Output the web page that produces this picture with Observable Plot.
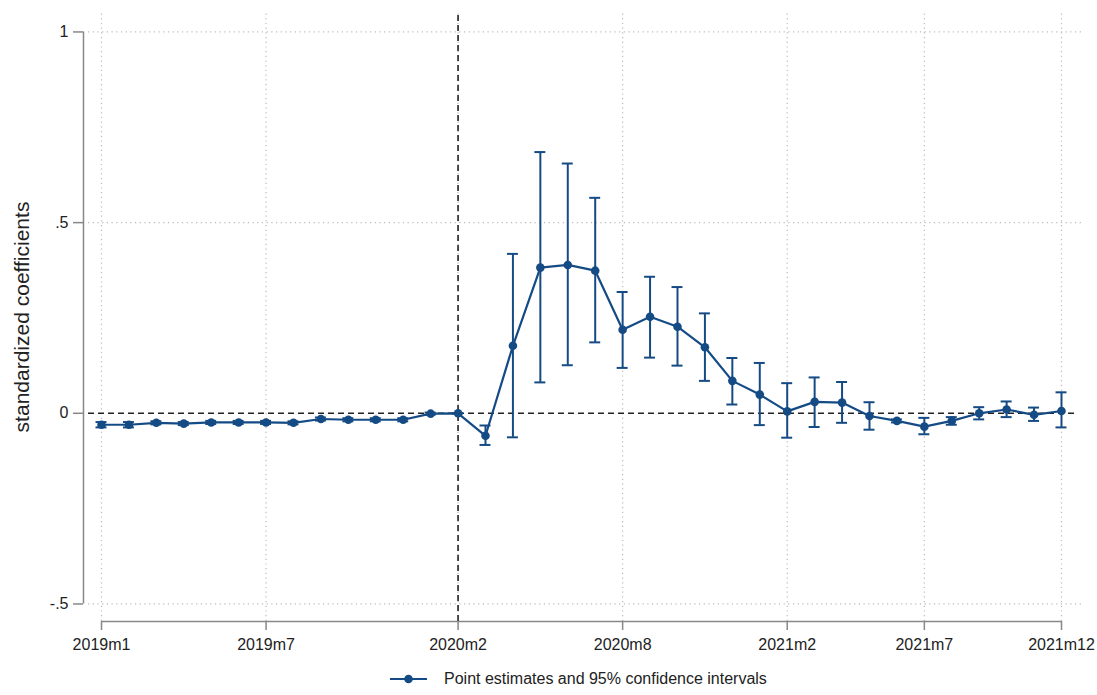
<!DOCTYPE html>
<html>
<head>
<meta charset="utf-8">
<script src="https://cdn.jsdelivr.net/npm/d3@7"></script>
<script src="https://cdn.jsdelivr.net/npm/@observablehq/plot@0.6"></script>
<style>
  html, body { margin: 0; padding: 0; background: #fff; }
  body { width: 1097px; height: 695px; position: relative; overflow: hidden; font-family: "Liberation Sans", Arial, sans-serif; }
  #legend { position: absolute; left: 390px; top: 670px; display: flex; align-items: center; font-size: 16px; color: #222; }
  #legend svg { margin-right: 17px; }
</style>
</head>
<body>
<div id="chart"></div>
<div id="legend"></div>
<script>
// Months (index 0 = 2019m1 ... 35 = 2021m12)
const months = ["2019m1","2019m2","2019m3","2019m4","2019m5","2019m6","2019m7","2019m8","2019m9","2019m10","2019m11","2019m12",
  "2020m1","2020m2","2020m3","2020m4","2020m5","2020m6","2020m7","2020m8","2020m9","2020m10","2020m11","2020m12",
  "2021m1","2021m2","2021m3","2021m4","2021m5","2021m6","2021m7","2021m8","2021m9","2021m10","2021m11","2021m12"];
const estimates = [-0.030,-0.030,-0.025,-0.027,-0.024,-0.024,-0.024,-0.025,-0.015,-0.017,-0.017,-0.017,
  -0.001,0.000,-0.059,0.177,0.382,0.389,0.374,0.219,0.253,0.227,0.173,0.085,
  0.049,0.005,0.030,0.028,-0.007,-0.020,-0.035,-0.020,0.000,0.010,-0.004,0.006];
const lower = [-0.037,-0.037,-0.029,-0.031,-0.028,-0.028,-0.028,-0.029,-0.019,-0.021,-0.021,-0.021,
  -0.004,0.000,-0.083,-0.063,0.081,0.126,0.186,0.119,0.146,0.125,0.085,0.023,
  -0.031,-0.064,-0.036,-0.025,-0.043,-0.024,-0.055,-0.030,-0.016,-0.010,-0.020,-0.037];
const upper = [-0.023,-0.023,-0.021,-0.023,-0.020,-0.020,-0.020,-0.021,-0.011,-0.013,-0.013,-0.013,
  0.002,0.000,-0.032,0.418,0.685,0.655,0.565,0.318,0.358,0.331,0.262,0.145,
  0.132,0.079,0.094,0.082,0.029,-0.016,-0.012,-0.010,0.016,0.031,0.015,0.055];
const xTickLabels = ["2019m1","2019m7","2020m2","2020m8","2021m2","2021m7","2021m12"];
const yTicks = [-0.5, 0, 0.5, 1];
const yTickLabels = ["-.5", "0", ".5", "1"];
const eventMonth = "2020m2";

const data = months.map((m, i) => ({i, m, est: estimates[i], lo: lower[i], hi: upper[i]}));
const xTicks = xTickLabels.map(l => months.indexOf(l));
const eventIdx = months.indexOf(eventMonth);
const color = "#154b85";
const capHalf = 0.2;
const yMin = -0.546, yMax = 1.051;
const xMin = -0.656, xMax = 35.766, gridStart = -0.474;

const chart = Plot.plot({
  width: 1097,
  height: 665,
  marginLeft: 83,
  marginRight: 15,
  marginTop: 12,
  marginBottom: 44,
  style: {fontFamily: "'Liberation Sans', Arial, sans-serif", fontSize: "16px", color: "#222", background: "#fff"},
  x: {domain: [xMin, xMax], axis: null},
  y: {domain: [yMin, yMax], axis: null},
  marks: [
    // grid
    Plot.ruleY([1, 0.5, -0.5], {x1: gridStart, x2: xMax, stroke: "#bbb", strokeDasharray: "1.2,3.5", strokeWidth: 1.2}),
    Plot.ruleX(xTicks, {y1: yMin, y2: yMax, stroke: "#bbb", strokeDasharray: "1.2,3.5", strokeWidth: 1.2}),
    // reference lines
    Plot.ruleY([0], {x1: gridStart, x2: 35.6, stroke: "#222", strokeDasharray: "6,4", strokeWidth: 1.6}),
    Plot.ruleX([eventIdx], {y1: yMin, y2: yMax, stroke: "#222", strokeDasharray: "6,4", strokeWidth: 1.6}),
    // axes lines
    Plot.ruleX([xMin], {y1: -0.5, y2: 1, stroke: "#888", strokeWidth: 1.5}),
    Plot.ruleY([yMin], {x1: 0, x2: 35, stroke: "#888", strokeWidth: 1.5}),
    Plot.axisY(yTicks, {anchor: "left", tickSize: 10, tickPadding: 5, stroke: "#888", strokeWidth: 1.5,
      tickFormat: (d, k) => yTickLabels[k], fontSize: 16, fill: "#222", label: null}),
    Plot.axisX(xTicks, {anchor: "bottom", tickSize: 9, tickPadding: 8, stroke: "#888", strokeWidth: 1.5,
      tickFormat: (d, k) => xTickLabels[k], fontSize: 16, fill: "#222", label: null}),
    // y label
    Plot.text(["standardized coefficients"], {frameAnchor: "left", dx: -61, rotate: -90, textAnchor: "middle",
      fontSize: 21, fill: "#222", text: d => d}),
    // confidence intervals
    Plot.ruleX(data, {x: "i", y1: "lo", y2: "hi", stroke: color, strokeWidth: 2}),
    Plot.ruleY(data, {y: "lo", x1: d => d.i - capHalf, x2: d => d.i + capHalf, stroke: color, strokeWidth: 2}),
    Plot.ruleY(data, {y: "hi", x1: d => d.i - capHalf, x2: d => d.i + capHalf, stroke: color, strokeWidth: 2}),
    // line and points
    Plot.line(data, {x: "i", y: "est", stroke: color, strokeWidth: 2.2}),
    Plot.dot(data, {x: "i", y: "est", r: 4.3, fill: color, stroke: "none"})
  ]
});
document.getElementById("chart").appendChild(chart);

document.getElementById("legend").innerHTML =
  `<svg width="37" height="12"><line x1="0" y1="6" x2="37" y2="6" stroke="${color}" stroke-width="2.2"/><circle cx="18.5" cy="6" r="4.3" fill="${color}"/></svg><span>Point estimates and 95% confidence intervals</span>`;
</script>
</body>
</html>
